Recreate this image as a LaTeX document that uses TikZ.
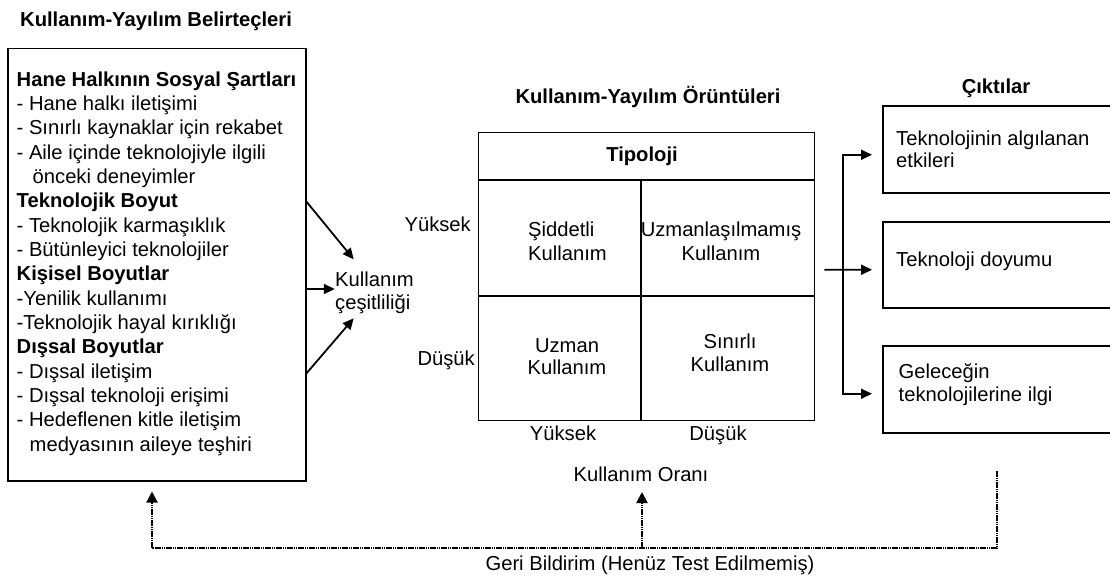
\documentclass[tikz,border=0pt]{standalone}
\usepackage{fontspec}
\setmainfont{Liberation Sans}[Ligatures=NoCommon]
\usetikzlibrary{arrows.meta,calc}
\begin{document}
\begin{tikzpicture}[x=1pt,y=-1pt,
  every node/.style={inner sep=0pt, font=\fontsize{20.2}{24.35}\selectfont},
  bf/.style={font=\fontsize{20.2}{24.35}\selectfont\bfseries},
  box/.style={draw, line width=1.5pt, anchor=north west},
  arr/.style={line width=1.8pt, -{Triangle[length=11pt,width=10pt]}},
  fbline/.style={line width=2pt, dash pattern=on 1.6pt off 0.6pt},
  fbarr/.style={fbline, -{Triangle[length=11pt,width=11pt]}},
  tline/.style={line width=1.4pt},
]
\useasboundingbox (0,0) rectangle (1110,578);

% ---------- left: determinants ----------
\node[bf, anchor=base west] (detTitle) at (20,26.5) {Kullanım-Yayılım Belirteçleri};
\node[box, minimum width=298pt, minimum height=432pt] (det) at (7,48) {};
\node[anchor=base west] (detText) at (16.5,86) {\parbox[t]{285pt}{\raggedright
\textbf{Hane Halkının Sosyal Şartları}\\
- Hane halkı iletişimi\\
- Sınırlı kaynaklar için rekabet\\
- Aile içinde teknolojiyle ilgili\\
\hspace*{16pt}önceki deneyimler\\
\textbf{Teknolojik Boyut}\\
- Teknolojik karmaşıklık\\
- Bütünleyici teknolojiler\\
\textbf{Kişisel Boyutlar}\\
-Yenilik kullanımı\\
-Teknolojik hayal kırıklığı\\
\textbf{Dışsal Boyutlar}\\
- Dışsal iletişim\\
- Dışsal teknoloji erişimi\\
- Hedeflenen kitle iletişim\\
\hspace*{13pt}medyasının aileye teşhiri}};

% ---------- usage variety ----------
\node[anchor=base west] (kc) at (335,286) {\parbox[t]{100pt}{\raggedright Kullanım\\[-1.3pt]çeşitliliği}};
\draw[arr] ($(det.north east)+(0,153.7)$) -- ($(kc.base west)+(18.7,-26.7)$);
\draw[arr] ($(det.north east)+(0,241)$) -- ($(kc.base west)+(-0.2,3)$);
\draw[arr] ($(det.north east)+(0,325.3)$) -- ($(kc.base west)+(18.7,32.3)$);

% ---------- patterns: typology table ----------
\node[bf, anchor=base] (patTitle) at (648,103) {Kullanım-Yayılım Örüntüleri};
\node[draw, tline, anchor=north west, minimum width=336pt, minimum height=288pt] (tab) at (478,132) {};
\draw[tline] ($(tab.north west)+(0,48)$) -- ($(tab.north east)+(0,48)$);
\draw[tline] ($(tab.north west)+(0,164)$) -- ($(tab.north east)+(0,164)$);
\draw[tline] ($(tab.north west)+(163,48)$) -- ($(tab.south west)+(163,0)$);

\node[bf, anchor=base] (tip) at (642,161) {Tipoloji};
\node[anchor=base west] (c11) at (528,236) {\parbox[t]{100pt}{\raggedright Şiddetli\\Kullanım}};
\node[anchor=base] (c12) at (721,236) {\parbox[t]{200pt}{\centering Uzmanlaşılmamış\\Kullanım}};
\node[anchor=base] (c21) at (567,352) {\parbox[t]{200pt}{\centering Uzman\\[-1.5pt]Kullanım}};
\node[anchor=base] (c22) at (730,348) {\parbox[t]{200pt}{\centering Sınırlı\\[-0.5pt]Kullanım}};

\node[anchor=base east] (yL) at (471,231) {Yüksek};
\node[anchor=base east] (dL) at (475,365) {Düşük};
\node[anchor=base] (yB) at (563,440) {Yüksek};
\node[anchor=base] (dB) at (718,440) {Düşük};
\node[anchor=base] (ko) at (641,481.7) {Kullanım Oranı};

% ---------- outcomes ----------
\node[bf, anchor=base] (outTitle) at (996,93.3) {Çıktılar};
\node[box, minimum width=240pt, minimum height=87pt] (o1) at (882,105) {};
\node[box, minimum width=240pt, minimum height=86pt] (o2) at (882,221) {};
\node[box, minimum width=240pt, minimum height=87pt] (o3) at (882,345) {};
\node[anchor=base west] (t1) at (896,145) {\parbox[t]{210pt}{\raggedright Teknolojinin algılanan\\[-2.3pt]etkileri}};
\node[anchor=base west] (t2) at (896,266.7) {Teknoloji doyumu};
\node[anchor=base west] (t3) at (898.5,378.3) {\parbox[t]{210pt}{\raggedright Geleceğin\\[-1pt]teknolojilerine ilgi}};

\coordinate (fk) at ($(o2.west)+(-39,5)$);
\draw[arr] ($(tab.east)+(9,-7)$) -- ($(o2.west)+(-10,5)$);
\draw[arr] (fk) |- ($(o1.west)+(-10,5.5)$);
\draw[arr] (fk) |- ($(o3.west)+(-10,4.5)$);

% ---------- feedback ----------
\coordinate (fbL) at (152,548);
\coordinate (fbM) at (642,548);
\coordinate (fbR) at (997,548);
\coordinate (fbRt) at (997,471);
\draw[fbline] (fbRt) -- (fbR) -- (fbL);
\draw[fbarr] (fbL) -- ($(det.south west)+(145,10)$);
\draw[fbarr] (fbM) -- ($(ko.base)+(1,10.3)$);
\node[anchor=base] (geri) at (650,570) {Geri Bildirim (Henüz Test Edilmemiş)};
\end{tikzpicture}
\end{document}
